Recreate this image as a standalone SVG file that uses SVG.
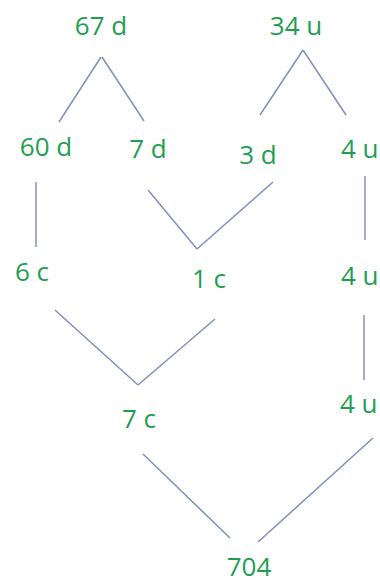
<svg xmlns="http://www.w3.org/2000/svg" width="380" height="584" viewBox="0 0 380 584">
<style>
.t{font-family:"Open Sans","Liberation Sans",sans-serif;font-size:26px;fill:#1f9e52;text-anchor:middle}
.s{text-anchor:start}
.c line{stroke:#8090c0;stroke-width:1.5;fill:none}
</style>
<rect width="380" height="584" fill="#fff"/>
<g class="c" id="connectors">
<line x1="101" y1="57" x2="59" y2="122"/>
<line x1="102" y1="57" x2="144" y2="121"/>
<line x1="303" y1="50" x2="260" y2="115"/>
<line x1="303" y1="50" x2="346" y2="115"/>
<line x1="36" y1="182" x2="36" y2="247"/>
<line x1="148" y1="190" x2="197" y2="249"/>
<line x1="197" y1="249" x2="273" y2="182"/>
<line x1="365" y1="176" x2="365" y2="240"/>
<line x1="364" y1="315" x2="364" y2="380"/>
<line x1="55" y1="310" x2="138" y2="385"/>
<line x1="138" y1="385" x2="215" y2="319"/>
<line x1="143" y1="454" x2="230" y2="538"/>
<line x1="258" y1="542" x2="373" y2="438"/>
</g>
<g id="n67d"><text class="t" x="101" y="35">67 d</text></g>
<g id="n34u"><text class="t" x="296" y="35">34 u</text></g>
<g id="n60d"><text class="t" x="46" y="156">60 d</text></g>
<g id="n7d"><text class="t" x="148" y="158">7 d</text></g>
<g id="n3d"><text class="t" x="258" y="164">3 d</text></g>
<g id="n4u1"><text class="t s" x="341" y="158">4 u</text></g>
<g id="n6c"><text class="t" x="32" y="281">6 c</text></g>
<g id="n1c"><text class="t" x="209" y="288">1 c</text></g>
<g id="n4u2"><text class="t s" x="341" y="285">4 u</text></g>
<g id="n7c"><text class="t" x="139" y="428">7 c</text></g>
<g id="n4u3"><text class="t s" x="340" y="413">4 u</text></g>
<g id="n704"><text class="t" x="249" y="576">704</text></g>
</svg>
